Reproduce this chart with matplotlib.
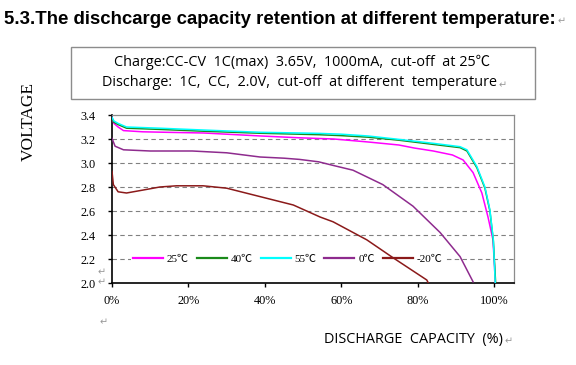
import matplotlib
matplotlib.use("Agg")
import matplotlib.pyplot as plt
from matplotlib.ticker import FixedLocator
from matplotlib.patches import Rectangle

# ---- data ----
cap_25 = [0, 0.5, 1.6, 3, 8, 14, 24, 39, 49, 58, 67, 75, 79, 84, 89, 91.8, 94.4, 96.7, 98.3, 99.6, 100.0, 100.2]
v_25 = [3.38, 3.33, 3.30, 3.27, 3.26, 3.256, 3.25, 3.225, 3.21, 3.20, 3.175, 3.15, 3.125, 3.10, 3.067, 3.025, 2.92, 2.75, 2.55, 2.36, 2.14, 2.00]

cap_40 = [0, 0.5, 1.6, 3.8, 12.5, 23.8, 38.7, 49, 54, 60, 67, 75, 84, 91, 92.8, 95.4, 97.5, 98.8, 99.7, 100.3]
v_40 = [3.37, 3.34, 3.32, 3.29, 3.28, 3.265, 3.248, 3.24, 3.236, 3.228, 3.215, 3.19, 3.155, 3.128, 3.10, 2.96, 2.79, 2.60, 2.35, 2.00]

cap_55 = [0, 0.5, 1.6, 3.8, 12.5, 23.8, 38.7, 49, 54, 60, 67, 75, 84, 91, 92.8, 95.4, 97.5, 98.8, 99.7, 100.2]
v_55 = [3.38, 3.35, 3.33, 3.30, 3.29, 3.275, 3.256, 3.25, 3.247, 3.24, 3.225, 3.197, 3.164, 3.136, 3.11, 2.97, 2.80, 2.61, 2.36, 2.00]

cap_0 = [0, 0.8, 3, 10, 21, 30, 38.7, 45, 49, 54, 57.8, 63, 70.8, 78.7, 85.8, 91, 94.4]
v_0 = [3.205, 3.14, 3.11, 3.10, 3.10, 3.085, 3.05, 3.04, 3.03, 3.01, 2.98, 2.94, 2.82, 2.64, 2.42, 2.22, 2.01]

cap_m20 = [0, 0.35, 1.6, 3.8, 8.2, 12.5, 16.9, 23.8, 30, 38.7, 47.4, 54.4, 57.8, 66.6, 73.5, 82.3, 82.7]
v_m20 = [2.93, 2.82, 2.76, 2.75, 2.775, 2.80, 2.81, 2.81, 2.79, 2.72, 2.65, 2.55, 2.51, 2.36, 2.21, 2.025, 2.00]

series_labels = ["25℃", "40℃", "55℃", "0℃", "-20℃"]
series_colors = ["#FF00FF", "#1A8A1A", "#00FFFF", "#8E2B8E", "#8B1A1A"]

x_ticks = [0, 20, 40, 60, 80, 100]
x_ticklabels = ["0%", "20%", "40%", "60%", "80%", "100%"]
y_ticks = [2.0, 2.2, 2.4, 2.6, 2.8, 3.0, 3.2, 3.4]
y_ticklabels = ["2.0", "2.2", "2.4", "2.6", "2.8", "3.0", "3.2", "3.4"]

title = "5.3.The dischcarge capacity retention at different temperature:"
box_line1 = "Charge:CC-CV  1C(max)  3.65V,  1000mA,  cut-off  at 25℃"
box_line2 = "Discharge:  1C,  CC,  2.0V,  cut-off  at different  temperature"
xlabel = "DISCHARGE  CAPACITY  (%)"
ylabel = "VOLTAGE"

SERIF = ["Liberation Serif", "Noto Sans CJK SC", "DejaVu Serif"]
SANS = ["Open Sans", "Noto Sans CJK SC", "DejaVu Sans"]
MARK = ["DejaVu Sans"]

fig = plt.figure(figsize=(5.76, 3.65), dpi=100)
W, H = 576.0, 365.0

def fx(px):
    return px / W

def fy(py):
    return 1 - py / H

ax = fig.add_axes([fx(112), fy(283), (514 - 112) / W, (283 - 115) / H])
ax.set_xlim(0, 105.1)
ax.set_ylim(2.0, 3.4)

data = [(cap_25, v_25), (cap_40, v_40), (cap_55, v_55), (cap_0, v_0), (cap_m20, v_m20)]
lines = []
for (xs, ys), lab, col in zip(data, series_labels, series_colors):
    ln, = ax.plot(xs, ys, color=col, lw=1.1, label=lab, zorder=3)
    lines.append(ln)

# grid
for y in y_ticks[1:-1]:
    ax.axhline(y, color="#808080", lw=0.8, ls=(0, (4, 3)), zorder=0.5)

for s in ["top", "right"]:
    ax.spines[s].set_color("#8c8c8c")
    ax.spines[s].set_linewidth(0.9)
for s in ["left", "bottom"]:
    ax.spines[s].set_color("black")
    ax.spines[s].set_linewidth(1.2)

ax.xaxis.set_major_locator(FixedLocator(x_ticks))
ax.set_xticklabels(x_ticklabels, fontfamily=SERIF, fontsize=8.8)
ax.yaxis.set_major_locator(FixedLocator(y_ticks))
ax.set_yticklabels(y_ticklabels, fontfamily=SERIF, fontsize=8.8)
ax.tick_params(axis="both", direction="out", length=3, width=1, colors="black", pad=9)
ax.tick_params(axis="x", pad=6)

leg = ax.legend(handles=lines, ncol=5, loc="center left",
                bbox_to_anchor=(4.9, 2.2), bbox_transform=ax.transData,
                frameon=True, facecolor="white", edgecolor="none", framealpha=1,
                prop={"family": SERIF, "size": 8}, handlelength=2.7,
                handletextpad=0.35, columnspacing=0.7, borderpad=0.2,
                borderaxespad=0)
leg.set_zorder(1)
for h in leg.legend_handles:
    h.set_linewidth(1.6)

# title
fig.text(fx(4), fy(19), title, fontsize=13.4, fontweight="bold",
         fontfamily=["Liberation Sans", "DejaVu Sans"], va="center", ha="left")
fig.text(fx(558), fy(21), "↵", fontsize=7, color="#999999", fontfamily=MARK, va="center")

# box
fig.patches.append(Rectangle((fx(70.7), fy(99.3)), (535 - 70.7) / W, (99.3 - 46.7) / H,
                             transform=fig.transFigure, fill=False,
                             edgecolor="#8c8c8c", lw=1.0))
fig.text(fx(302), fy(62), box_line1, fontsize=10.4, fontfamily=SANS, ha="center", va="center")
fig.text(fx(300), fy(83), box_line2, fontsize=10.4, fontfamily=SANS, ha="center", va="center")
fig.text(fx(499), fy(85), "↵", fontsize=7, color="#999999", fontfamily=MARK, va="center")

# axis labels
fig.text(fx(29), fy(121), ylabel, fontsize=12.5, fontfamily=SERIF, rotation=90,
         ha="center", va="center")
fig.text(fx(413), fy(340), xlabel, fontsize=10.4, fontfamily=SANS, ha="center", va="center")
fig.text(fx(505), fy(341), "↵", fontsize=7, color="#999999", fontfamily=MARK, va="center")

# small paragraph marks
fig.text(fx(100), fy(322), "↵", fontsize=7, color="#999999", fontfamily=MARK, va="center")
fig.text(fx(98), fy(282), "↵", fontsize=7, color="#999999", fontfamily=MARK, va="center")
fig.text(fx(98), fy(272), "↵", fontsize=7, color="#999999", fontfamily=MARK, va="center")

fig.savefig("out.png", dpi=100)
